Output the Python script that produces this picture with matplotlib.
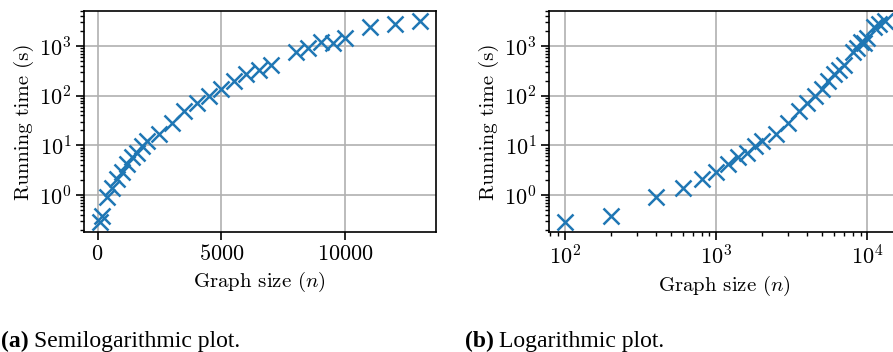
import matplotlib
matplotlib.use("Agg")
import matplotlib.pyplot as plt
from matplotlib.ticker import MultipleLocator

plt.rcParams.update({
    "font.family": "serif",
    "font.serif": ["cmr10"],
    "mathtext.fontset": "cm",
    "axes.formatter.use_mathtext": True,
    "font.size": 15,
    "xtick.labelsize": 16,
    "ytick.labelsize": 16,
    "axes.linewidth": 1.2,
    "xtick.major.size": 5.5, "ytick.major.size": 5.5,
    "xtick.major.width": 1.2, "ytick.major.width": 1.2,
    "xtick.minor.size": 3.2, "ytick.minor.size": 3.2,
    "xtick.minor.width": 1.0, "ytick.minor.width": 1.0,
    "grid.linewidth": 1.2,
    "grid.color": "#b0b0b0",
})

# Data
graph_size = [100, 200, 400, 600, 800, 1000, 1200, 1400, 1600, 1800, 2000,
              2500, 3000, 3500, 4000, 4500, 5000, 5500, 6000, 6500, 7000,
              8000, 8500, 9000, 9500, 10000, 11000, 12000, 13000]
running_time = [0.29, 0.37, 0.90, 1.4, 2.1, 2.9, 4.3, 5.8, 7.1, 9.6, 12,
                17, 28, 50, 72, 98, 138, 195, 280, 335, 415,
                775, 920, 1230, 1180, 1450, 2400, 2770, 3200]

xlabel = "Graph size ($n$)"
ylabel = "Running time (s)"
captions = [("(a)", "Semilogarithmic plot."), ("(b)", "Logarithmic plot.")]

W, H = 893, 352
fig = plt.figure(figsize=(W / 100, H / 100), dpi=100)

ax_w = 351.7 / W
ax_h = 220.7 / H
ax_b = 1 - 231.7 / H
ax1 = fig.add_axes([84 / W, ax_b, ax_w, ax_h])
ax2 = fig.add_axes([549 / W, ax_b, ax_w, ax_h])

for ax in (ax1, ax2):
    ax.plot(graph_size, running_time, linestyle="none", marker="x",
            markersize=12, markeredgewidth=1.8, color="#1f77b4")
    ax.set_yscale("log")
    ax.grid(True, which="major")
    ax.set_axisbelow(True)
    ax.set_xlabel(xlabel)
    ax.set_ylabel(ylabel)

ax1.xaxis.set_major_locator(MultipleLocator(5000))
ax2.set_xscale("log")

# Captions
fig.canvas.draw()
renderer = fig.canvas.get_renderer()
cap_y = 1 - 347 / H
for (lab, txt), x0 in zip(captions, [1 / W, 465 / W]):
    t = fig.text(x0, cap_y, lab, fontsize=17, fontweight="bold",
                 family="Liberation Serif", va="baseline", ha="left")
    bb = t.get_window_extent(renderer=renderer)
    fig.text(bb.x1 / W + 5 / W, cap_y, txt, fontsize=17,
             family="Liberation Serif", va="baseline", ha="left")

fig.savefig("out.png", dpi=100)
